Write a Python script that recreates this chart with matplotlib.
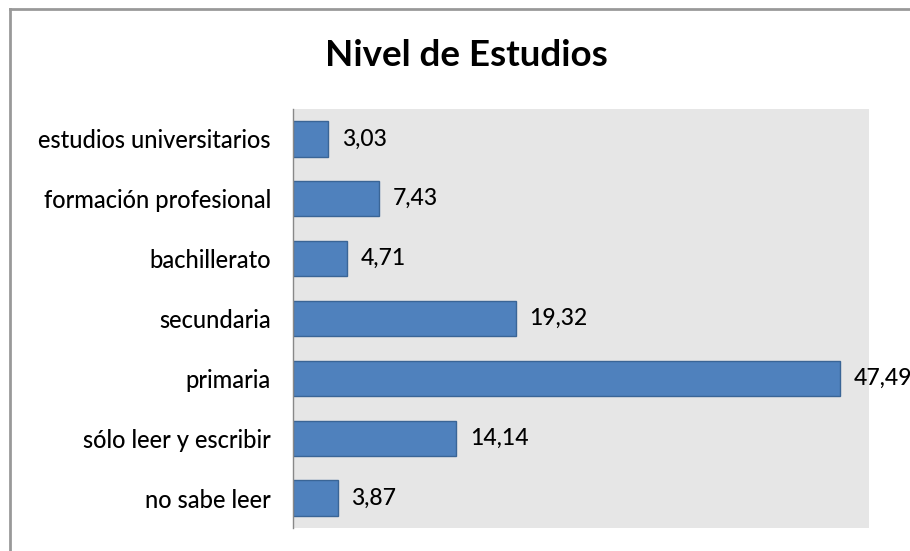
import matplotlib.pyplot as plt
from matplotlib.lines import Line2D

categorias = ["no sabe leer", "sólo leer y escribir", "primaria", "secundaria",
              "bachillerato", "formación profesional", "estudios universitarios"]
valores = [3.87, 14.14, 47.49, 19.32, 4.71, 7.43, 3.03]
etiquetas = ["3,87", "14,14", "47,49", "19,32", "4,71", "7,43", "3,03"]

plt.rcParams['font.family'] = ['Lato', 'DejaVu Sans']

dpi = 100
fig = plt.figure(figsize=(910 / dpi, 551 / dpi), dpi=dpi)
ax = fig.add_axes([293 / 910, 23 / 551, 576 / 910, 419 / 551])
ax.set_facecolor('#e6e6e6')

ys = range(len(categorias))
ax.barh(ys, valores, height=0.59, color='#4f81bd', edgecolor='#3a6596', linewidth=1)

for y, v, t in zip(ys, valores, etiquetas):
    ax.text(v + 1.2, y, t, va='center', ha='left', fontsize=16.5, color='black',
            fontweight='medium')

ax.set_xlim(0, 50)
ax.set_ylim(-0.5, len(categorias) - 0.5)
ax.set_yticks(list(ys))
ax.set_yticklabels(categorias, fontsize=17, fontweight='medium')
ax.tick_params(axis='y', length=0, pad=16)
ax.set_xticks([])
for s in ['top', 'right', 'bottom']:
    ax.spines[s].set_visible(False)
ax.spines['left'].set_color('#888888')
ax.spines['left'].set_linewidth(1)

fig.text(466 / 910, 1 - 55 / 551, "Nivel de Estudios", ha='center', va='center',
         fontsize=26.5, fontweight='bold')

# borde del gráfico
fig.add_artist(Line2D([10 / 910, 10 / 910], [0, 1 - 9 / 551], color='#999999', linewidth=2))
fig.add_artist(Line2D([10 / 910, 1], [1 - 9 / 551, 1 - 9 / 551], color='#999999', linewidth=2))

fig.savefig('out.png', dpi=dpi)
